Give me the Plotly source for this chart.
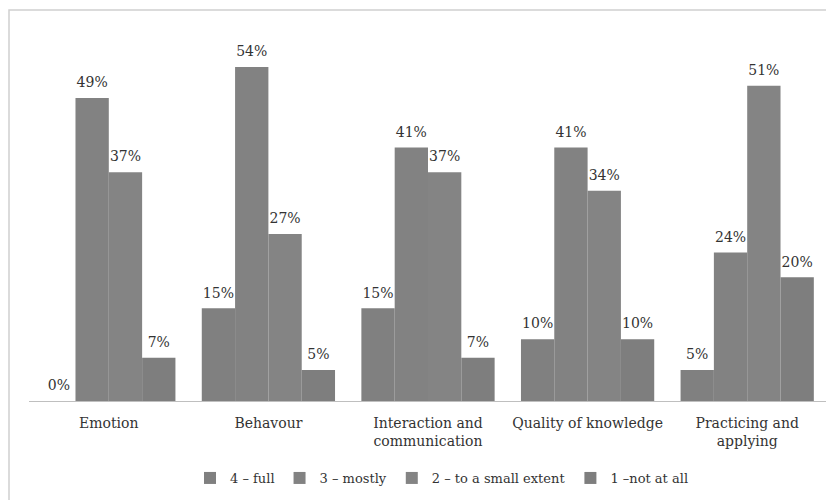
import plotly.graph_objects as go

categories = ["Emotion", "Behavour", "Interaction and<br>communication",
              "Quality of knowledge", "Practicing and<br>applying"]
series_names = ["4 – full", "3 – mostly", "2 – to a small extent", "1 –not at all"]
full = [0, 15, 15, 10, 5]
mostly = [49, 54, 41, 41, 24]
small_extent = [37, 27, 37, 34, 51]
not_at_all = [7, 5, 7, 10, 20]
colors = ["#808080", "#828282", "#848484", "#7e7e7e"]

FONT = "DejaVu Serif"
OFF = 8  # page body margin
W, H = 834 - OFF, 500 - OFF
L, R = 29 - OFF, 834 - 827
T, B = 30 - OFF, 500 - 401
pw, ph = W - L - R, H - T - B

def py(ypx):
    return (401 - ypx) / ph

def px(xpx):
    return (xpx - 29) / pw

fig = go.Figure()
all_vals = [full, mostly, small_extent, not_at_all]
for i, (name, vals, col) in enumerate(zip(series_names, all_vals, colors)):
    fig.add_trace(go.Bar(
        x=categories, y=vals, name=name, offsetgroup=str(i),
        marker=dict(color=col, line=dict(width=0)),
    ))
for i, (name, vals) in enumerate(zip(series_names, all_vals)):
    fig.add_trace(go.Scatter(
        x=categories, y=vals, name=name, offsetgroup=str(i),
        mode="markers+text", marker=dict(size=10, opacity=0),
        text=[f"{v}%" for v in vals], textposition="top center",
        textfont=dict(family=FONT, size=14, color="#333333"),
        showlegend=False, hoverinfo="skip", cliponaxis=False,
    ))

fig.update_layout(
    width=W, height=H,
    margin=dict(l=L, r=R, t=T, b=B),
    barmode="group", bargap=0.165, bargroupgap=0,
    scattermode="group", scattergap=0.165,
    plot_bgcolor="white", paper_bgcolor="white",
    font=dict(family=FONT, size=14, color="#333333"),
    xaxis=dict(showline=True, linecolor="#bfbfbf", linewidth=1, ticks="",
               ticklabelstandoff=9,
               tickfont=dict(family=FONT, size=14, color="#333333")),
    yaxis=dict(range=[0, 60], visible=False),
    legend=dict(orientation="h", x=px(442), xanchor="center",
                y=py(478), yanchor="middle",
                font=dict(family=FONT, size=13, color="#333333"),
                itemwidth=30, traceorder="normal"),
    showlegend=True,
    shapes=[dict(type="rect", xref="paper", yref="paper",
                 x0=px(9), x1=px(850),
                 y0=py(520), y1=py(10),
                 line=dict(color="#d0d0d0", width=1.5), fillcolor="rgba(0,0,0,0)", layer="below")],
)

fig.write_html("out.html")
